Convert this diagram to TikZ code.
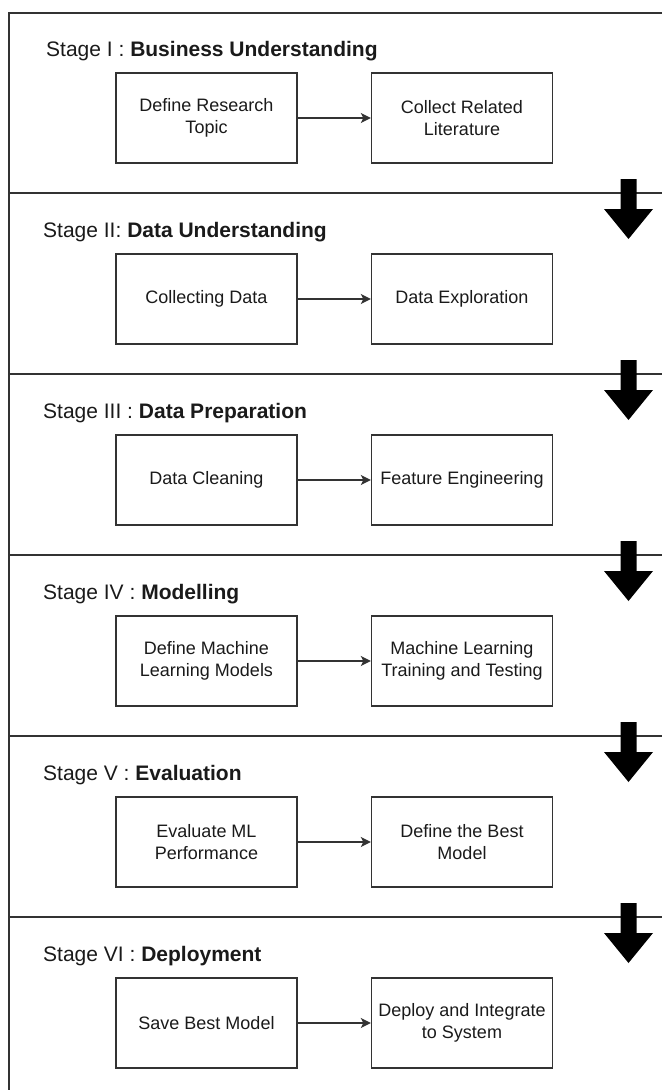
\documentclass[tikz,border=0pt]{standalone}
\usepackage{fontspec}
\setmainfont{Liberation Sans}
\usetikzlibrary{arrows.meta}
\definecolor{linec}{HTML}{333333}
\definecolor{textc}{HTML}{1A1A1A}
\begin{document}
\begin{tikzpicture}[x=1pt,y=-1pt,
  frame/.style={draw=linec,line width=1.4pt},
  stepbox/.style={draw=linec,line width=1.4pt,minimum width=181pt,minimum height=90pt,
    align=center,text=textc,font=\fontsize{18}{21.6}\selectfont,inner sep=2pt},
  stagetitle/.style={anchor=base west,inner sep=0pt,text=textc,font=\fontsize{21}{25}\selectfont},
  flow/.style={draw=linec,line width=1.3pt,-{Stealth[length=10pt,width=10pt,inset=2.5pt]}},
  bigarrow/.style={fill=black}]
\useasboundingbox (0,0) rectangle (662,1090);

% frame
\draw[frame] (662,13) -- (9,13) -- (9,1090);
\foreach \s in {193,374,555,736,917}{
  \draw[frame] (9,\s) -- (662,\s);
}

% stage titles
\node[stagetitle] (t1) at (46,56)  {Stage I : \textbf{Business Understanding}};
\node[stagetitle] (t2) at (43,237) {Stage II: \textbf{Data Understanding}};
\node[stagetitle] (t3) at (43,418) {Stage III : \textbf{Data Preparation}};
\node[stagetitle] (t4) at (43,599) {Stage IV : \textbf{Modelling}};
\node[stagetitle] (t5) at (43,780) {Stage V : \textbf{Evaluation}};
\node[stagetitle] (t6) at (43,961) {Stage VI : \textbf{Deployment}};

% boxes
\node[stepbox] (b1l) at (206.5,118) {Define Research\\Topic};
\node[stepbox] (b1r) at (462,118)   {Collect Related\\Literature};
\node[stepbox] (b2l) at (206.5,299) {Collecting Data};
\node[stepbox] (b2r) at (462,299)   {Data Exploration};
\node[stepbox] (b3l) at (206.5,480) {Data Cleaning};
\node[stepbox] (b3r) at (462,480)   {Feature Engineering};
\node[stepbox] (b4l) at (206.5,661) {Define Machine\\Learning Models};
\node[stepbox] (b4r) at (462,661)   {Machine Learning\\Training and Testing};
\node[stepbox] (b5l) at (206.5,842) {Evaluate ML\\Performance};
\node[stepbox] (b5r) at (462,842)   {Define the Best\\Model};
\node[stepbox] (b6l) at (206.5,1023) {Save Best Model};
\node[stepbox] (b6r) at (462,1023)   {Deploy and Integrate\\to System};

% connectors
\foreach \i in {1,...,6}{
  \draw[flow] (b\i l.east) -- (b\i r.west);
}

% big arrows between stages
\foreach \s in {193,374,555,736,917}{
  \fill[bigarrow] (620.5,\s-14) -- (636.5,\s-14) -- (636.5,\s+16) -- (653,\s+16)
    -- (628.5,\s+46) -- (604,\s+16) -- (620.5,\s+16) -- cycle;
}
\end{tikzpicture}
\end{document}
